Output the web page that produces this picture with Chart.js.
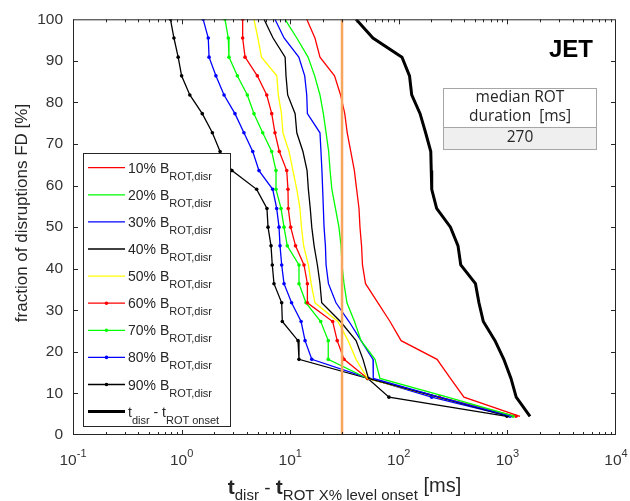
<!DOCTYPE html>
<html>
<head>
<meta charset="utf-8">
<script src="https://cdn.jsdelivr.net/npm/chart.js@4.4.1/dist/chart.umd.min.js"></script>
<style>
    html, body { margin: 0; padding: 0; background: #fff; }
    #wrap { width: 630px; height: 501px; }
</style>
</head>
<body>
<div id="wrap"><canvas id="fd-chart" width="630" height="501"></canvas></div>
<script>
// fraction of disruptions [%], one level per disruption (top to bottom)
const fdLevels = [100, 95.5, 90.9, 86.4, 81.8, 77.3, 72.7, 68.2, 63.6, 59.1, 54.5,
    50.0, 45.5, 40.9, 36.4, 31.8, 27.3, 22.7, 18.2, 13.6, 9.1, 4.5];

// t_disr - t_ROT X% level onset [ms]
const t10 = [14.2, 16.9, 18.8, 25.6, 29.1, 31.8, 33.5, 36.1, 39.0, 40.9, 43.0, 43.9, 45.4, 46.3, 49.4, 64.3, 83.0, 105, 225, 299, 398, 1306];
const t20 = [8.96, 11.5, 14.6, 16.8, 18.8, 20.2, 21.4, 22.6, 23.3, 24.2, 26.1, 28.1, 29.4, 30.0, 31.3, 33.3, 39.1, 44.9, 60.4, 67.1, 281, 1175];
const t30 = [7.24, 8.78, 12.0, 13.6, 14.2, 14.4, 18.8, 19.2, 19.6, 19.9, 20.2, 20.5, 21.1, 21.4, 22.5, 26.4, 34.8, 44.9, 57.9, 58.2, 237, 1103];
const t40 = [5.74, 6.95, 8.98, 9.15, 9.48, 11.1, 11.5, 13.1, 14.3, 14.7, 15.3, 15.8, 16.6, 17.8, 18.8, 19.5, 29.0, 40.4, 46.8, 52.6, 230, 1034];
const t50 = [4.64, 5.04, 5.44, 7.53, 7.77, 8.31, 8.57, 9.75, 10.6, 11.5, 12.3, 12.7, 13.3, 14.7, 15.6, 16.9, 27.5, 34.1, 40.4, 51.5, 230, 1103];
const t60 = [3.65, 3.65, 3.84, 4.98, 6.08, 6.76, 7.24, 7.94, 9.29, 9.54, 9.60, 10.1, 11.2, 13.4, 14.4, 14.4, 24.6, 27.1, 31.3, 51.6, 237, 1200];
const t70 = [2.51, 2.69, 2.73, 3.26, 4.03, 4.64, 5.58, 6.76, 7.40, 7.40, 8.23, 8.77, 9.40, 12.05, 12.05, 13.98, 19.1, 22.4, 22.4, 51.6, 237, 1126];
const t80 = [1.58, 1.76, 1.79, 2.07, 2.46, 3.10, 3.75, 4.52, 5.16, 6.90, 7.51, 7.89, 8.06, 8.35, 8.77, 10.3, 12.6, 13.7, 15.8, 53.2, 201, 1057];
const t90 = [0.79, 0.85, 0.93, 1.00, 1.19, 1.55, 1.92, 2.26, 2.91, 4.91, 6.11, 6.25, 6.66, 6.84, 7.09, 8.35, 8.46, 11.8, 12.05, 52.0, 81.2, 991];
const tOnset = [40.4, 57.8, 107, 125.5, 131.5, 157, 176.6, 197, 199, 201, 223, 299, 351, 372, 508, 547, 600, 769, 927, 1079, 1205, 1615];

const levelLabels = ['10%', '20%', '30%', '40%', '50%', '60%', '70%', '80%', '90%'];
const levelSeries = [t10, t20, t30, t40, t50, t60, t70, t80, t90];

// orange reference line (30 ms)
const refLineX = [30, 30];
const refLineY = [0, 100];

const xTickValues = [0.1, 1, 10, 100, 1000, 10000];
const xTickExps = ['-1', '0', '1', '2', '3', '4'];
const medianRot = '270';

const lineColors = ['#ff0000', '#00ff00', '#0000ff', '#000000', '#ffff00', '#ff0000', '#00ff00', '#0000ff', '#000000'];
const withDots = [false, false, false, false, false, true, true, true, true];
const ink = '#262626';
const sans = '"Liberation Sans", Arial, Helvetica, sans-serif';

function toPoints(xs) {
    return xs.map((x, i) => ({ x, y: fdLevels[i] }));
}

function fontOf(p) {
    return `${p.bold ? 'bold ' : ''}${p.size}px ${p.family || sans}`;
}

function richWidth(ctx, parts) {
    let w = 0;
    for (const p of parts) {
        ctx.font = fontOf(p);
        w += ctx.measureText(p.text).width;
    }
    return w;
}

function drawRich(ctx, parts, x, baseline) {
    for (const p of parts) {
        ctx.font = fontOf(p);
        ctx.fillText(p.text, x, baseline + (p.dy || 0));
        x += ctx.measureText(p.text).width;
    }
}

const datasets = [
    {
        label: 'ref',
        data: refLineX.map((x, i) => ({ x, y: refLineY[i] })),
        borderColor: '#f8a55e',
        borderWidth: 2.5,
        pointRadius: 0,
        order: -1,
    },
];
levelSeries.forEach((s, i) => {
    datasets.push({
        label: levelLabels[i],
        data: toPoints(s),
        borderColor: lineColors[i],
        backgroundColor: lineColors[i],
        borderWidth: 1.3,
        pointRadius: withDots[i] ? 1.8 : 0,
        pointBorderWidth: 0,
    });
});
datasets.push({
    label: 'onset',
    data: toPoints(tOnset),
    borderColor: '#000000',
    borderWidth: 3,
    pointRadius: 0,
});

const framePlugin = {
    id: 'frame',
    afterDatasetsDraw(chart) {
        const { ctx, chartArea: a, scales } = chart;
        const x = scales.x;
        const y = scales.y;
        ctx.save();
        ctx.strokeStyle = ink;
        ctx.lineWidth = 1;
        ctx.strokeRect(a.left + 0.5, a.top + 0.5, a.right - a.left - 1, a.bottom - a.top - 1);

        ctx.beginPath();
        for (let d = -1; d <= 3; d++) {
            for (let m = 1; m <= 9; m++) {
                const px = Math.round(x.getPixelForValue(m * Math.pow(10, d))) + 0.5;
                const len = m === 1 ? 5 : 3;
                ctx.moveTo(px, a.bottom);
                ctx.lineTo(px, a.bottom - len);
                ctx.moveTo(px, a.top);
                ctx.lineTo(px, a.top + len);
            }
        }
        for (let v = 10; v < 100; v += 10) {
            const py = Math.round(y.getPixelForValue(v)) + 0.5;
            ctx.moveTo(a.left, py);
            ctx.lineTo(a.left + 5, py);
            ctx.moveTo(a.right, py);
            ctx.lineTo(a.right - 5, py);
        }
        ctx.stroke();

        ctx.fillStyle = '#333';
        ctx.textAlign = 'left';
        ctx.textBaseline = 'alphabetic';
        xTickValues.forEach((v, i) => {
            const parts = [
                { text: '10', size: 15.5 },
                { text: xTickExps[i], size: 11, dy: -8 },
            ];
            const w = richWidth(ctx, parts);
            drawRich(ctx, parts, x.getPixelForValue(v) - w / 2, 465);
        });

        ctx.fillStyle = ink;
        const title = [
            { text: 't', size: 21, bold: true },
            { text: 'disr', size: 15, dy: 6 },
            { text: ' - ', size: 19 },
            { text: 't', size: 21, bold: true },
            { text: 'ROT X% level onset', size: 15, dy: 6 },
            { text: ' [ms]', size: 20, dy: -2 },
        ];
        const tw = richWidth(ctx, title);
        drawRich(ctx, title, (a.left + a.right) / 2 - tw / 2, 494);

        ctx.translate(22, 213);
        ctx.rotate(-Math.PI / 2);
        ctx.textAlign = 'center';
        ctx.textBaseline = 'middle';
        ctx.font = `17px ${sans}`;
        ctx.fillText('fraction of disruptions FD [%]', 0, 0);
        ctx.restore();
    },
    afterDraw(chart) {
        const { ctx } = chart;
        ctx.save();

        // legend
        ctx.fillStyle = '#fff';
        ctx.fillRect(83, 153, 147, 273);
        ctx.strokeStyle = ink;
        ctx.lineWidth = 1;
        ctx.strokeRect(83.5, 153.5, 147, 273);
        ctx.textAlign = 'left';
        ctx.textBaseline = 'alphabetic';
        for (let i = 0; i < 10; i++) {
            const ry = 167.7 + i * 27.1;
            const last = i === 9;
            const col = last ? '#000' : lineColors[i];
            ctx.strokeStyle = col;
            ctx.lineWidth = last ? 3 : 1.3;
            ctx.beginPath();
            ctx.moveTo(88, ry);
            ctx.lineTo(125, ry);
            ctx.stroke();
            if (!last && withDots[i]) {
                ctx.fillStyle = col;
                ctx.beginPath();
                ctx.arc(106.5, ry, 1.8, 0, Math.PI * 2);
                ctx.fill();
            }
            ctx.fillStyle = ink;
            const parts = last
                ? [
                    { text: 't', size: 14 },
                    { text: 'disr', size: 11, dy: 7 },
                    { text: ' - t', size: 14 },
                    { text: 'ROT onset', size: 11, dy: 7 },
                ]
                : [
                    { text: levelLabels[i] + ' B', size: 14 },
                    { text: 'ROT,disr', size: 11, dy: 7 },
                ];
            drawRich(ctx, parts, 128, ry + 5);
        }

        // median table
        ctx.fillStyle = '#fff';
        ctx.fillRect(443, 88, 153, 39);
        ctx.fillStyle = '#efefef';
        ctx.fillRect(443, 127, 153, 22);
        ctx.strokeStyle = '#a6a6a6';
        ctx.lineWidth = 1;
        ctx.strokeRect(443.5, 88.5, 153, 61);
        ctx.beginPath();
        ctx.moveTo(443.5, 127.5);
        ctx.lineTo(596.5, 127.5);
        ctx.stroke();
        ctx.fillStyle = ink;
        ctx.textAlign = 'center';
        ctx.textBaseline = 'middle';
        ctx.font = '15.5px "Open Sans", "Noto Sans", sans-serif';
        ctx.fillText('median ROT', 520, 98);
        ctx.fillText('duration  [ms]', 520, 117);
        ctx.fillText(medianRot, 520, 138);

        ctx.textAlign = 'right';
        ctx.textBaseline = 'alphabetic';
        ctx.fillStyle = '#000';
        ctx.font = `bold 24px ${sans}`;
        ctx.fillText('JET', 593, 57);
        ctx.restore();
    },
};

new Chart(document.getElementById('fd-chart'), {
    type: 'line',
    data: { datasets },
    options: {
        responsive: false,
        animation: false,
        layout: { padding: { top: 19, right: 14, left: 0, bottom: 0 } },
        plugins: {
            legend: { display: false },
            tooltip: { enabled: false },
        },
        elements: { line: { tension: 0, fill: false } },
        scales: {
            x: {
                type: 'logarithmic',
                min: 0.1,
                max: 10000,
                ticks: { display: false },
                grid: { display: false, drawTicks: false },
                border: { display: false },
                afterFit: (s) => { s.height = 66; },
            },
            y: {
                type: 'linear',
                min: 0,
                max: 100,
                ticks: { stepSize: 10, padding: 10, color: '#333', font: { family: sans, size: 15.5 } },
                grid: { display: false, drawTicks: false },
                border: { display: false },
                afterFit: (s) => { s.width = 73; },
            },
        },
    },
    plugins: [framePlugin],
});
</script>
</body>
</html>
